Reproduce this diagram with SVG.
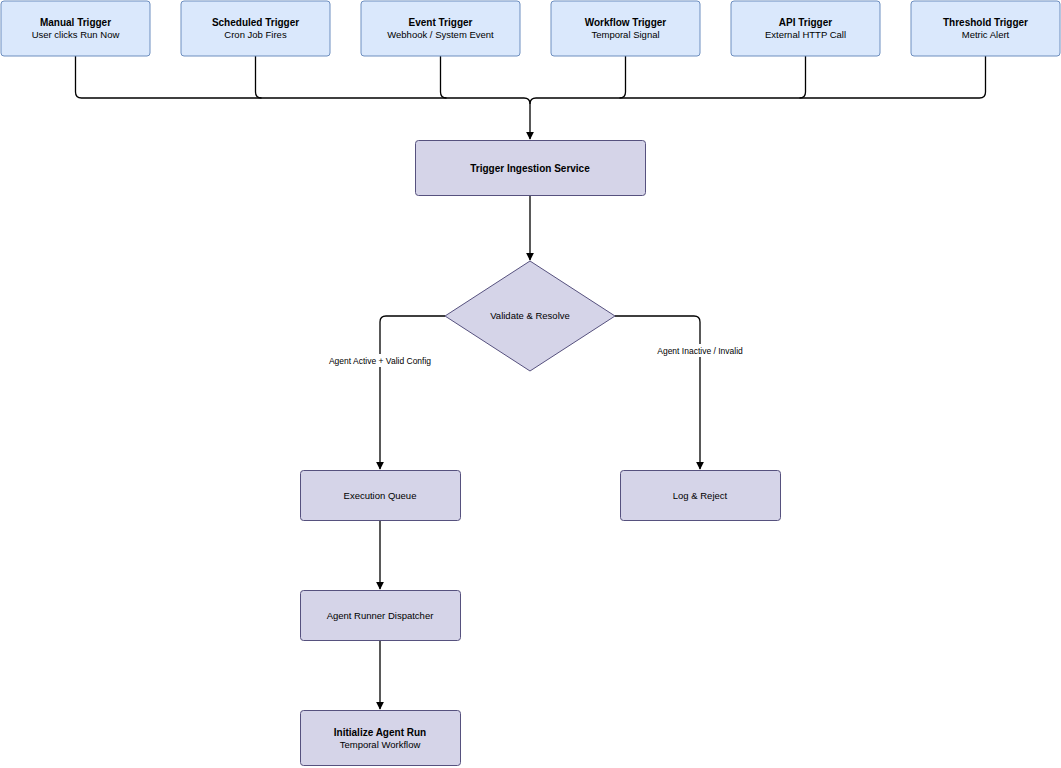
<svg xmlns="http://www.w3.org/2000/svg" width="1061" height="768" viewBox="0 0 1061 768">
<defs>
<style>
.t{fill:#dae8fc;stroke:#6c8ebf;stroke-width:1}
.p{fill:#d5d4e8;stroke:#56517e;stroke-width:1}
text{font-family:"Liberation Sans",Arial,sans-serif;font-size:9.5px;fill:#000;text-anchor:middle}
.b{font-weight:bold;font-size:10px}
.c{fill:none;stroke:#000;stroke-width:1.3}
.l{font-size:8.5px}
</style>
<marker id="a" viewBox="0 0 10 10" refX="9" refY="5" markerWidth="8" markerHeight="8" markerUnits="userSpaceOnUse" orient="auto"><path d="M0,0L10,5L0,10z" fill="#000"/></marker>
</defs>
<rect width="1061" height="768" fill="#fff"/>
<g id="connectors">
<path class="c" d="M75.5,56V92Q75.5,98 81.5,98H524Q530,98 530,104"/>
<path class="c" d="M255.5,56V92Q255.5,98 261.5,98"/>
<path class="c" d="M440.5,56V92Q440.5,98 446.5,98"/>
<path class="c" d="M625.5,56V92Q625.5,98 619.5,98"/>
<path class="c" d="M805.5,56V92Q805.5,98 799.5,98"/>
<path class="c" d="M985.5,56V92Q985.5,98 979.5,98H536Q530,98 530,104V139" marker-end="url(#a)"/>
<path class="c" d="M530,196V260" marker-end="url(#a)"/>
<path class="c" d="M445,316H386Q380,316 380,322V469" marker-end="url(#a)"/>
<path class="c" d="M615,316H694Q700,316 700,322V469" marker-end="url(#a)"/>
<path class="c" d="M380,520V589" marker-end="url(#a)"/>
<path class="c" d="M380,640V709" marker-end="url(#a)"/>
<rect x="322" y="354" width="116" height="13" fill="#fff"/>
<text class="l" x="380" y="364">Agent Active + Valid Config</text>
<rect x="650" y="344" width="100" height="13" fill="#fff"/>
<text class="l" x="700" y="354">Agent Inactive / Invalid</text>
</g>
<g id="manual"><rect class="t" x="1" y="1" width="149" height="55" rx="3"/><text class="b" x="75.5" y="26">Manual Trigger</text><text x="75.5" y="38">User clicks Run Now</text></g>
<g id="scheduled"><rect class="t" x="181" y="1" width="149" height="55" rx="3"/><text class="b" x="255.5" y="26">Scheduled Trigger</text><text x="255.5" y="38">Cron Job Fires</text></g>
<g id="event"><rect class="t" x="361" y="1" width="159" height="55" rx="3"/><text class="b" x="440.5" y="26">Event Trigger</text><text x="440.5" y="38">Webhook / System Event</text></g>
<g id="workflow"><rect class="t" x="551" y="1" width="149" height="55" rx="3"/><text class="b" x="625.5" y="26">Workflow Trigger</text><text x="625.5" y="38">Temporal Signal</text></g>
<g id="api"><rect class="t" x="731" y="1" width="149" height="55" rx="3"/><text class="b" x="805.5" y="26">API Trigger</text><text x="805.5" y="38">External HTTP Call</text></g>
<g id="threshold"><rect class="t" x="911" y="1" width="149" height="55" rx="3"/><text class="b" x="985.5" y="26">Threshold Trigger</text><text x="985.5" y="38">Metric Alert</text></g>
<g id="ingest"><rect class="p" x="415.5" y="140.5" width="230" height="55" rx="3"/><text class="b" x="530" y="172">Trigger Ingestion Service</text></g>
<g id="validate"><path class="p" d="M530,261L615,316L530,371L445,316z"/><text x="530" y="319">Validate &amp; Resolve</text></g>
<g id="queue"><rect class="p" x="300.5" y="470.5" width="160" height="50" rx="3"/><text x="380" y="499">Execution Queue</text></g>
<g id="reject"><rect class="p" x="620.5" y="470.5" width="160" height="50" rx="3"/><text x="700" y="499">Log &amp; Reject</text></g>
<g id="dispatcher"><rect class="p" x="300.5" y="590.5" width="160" height="50" rx="3"/><text x="380" y="619">Agent Runner Dispatcher</text></g>
<g id="init"><rect class="p" x="300.5" y="710.5" width="160" height="55" rx="3"/><text class="b" x="380" y="736">Initialize Agent Run</text><text x="380" y="748">Temporal Workflow</text></g>
</svg>
